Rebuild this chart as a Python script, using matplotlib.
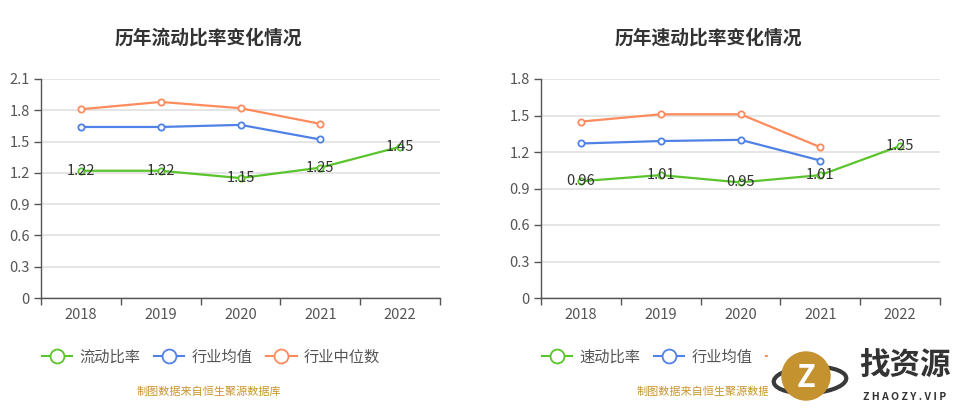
import matplotlib
matplotlib.use("Agg")
import matplotlib.pyplot as plt
from matplotlib.lines import Line2D
from matplotlib.patches import Ellipse, Rectangle

plt.rcParams["font.family"] = ["Noto Sans CJK SC", "DejaVu Sans"]

years = ["2018", "2019", "2020", "2021", "2022"]

current_ratio = [1.22, 1.22, 1.15, 1.25, 1.45]
current_ind_mean = [1.64, 1.64, 1.66, 1.52]
current_ind_median = [1.81, 1.88, 1.82, 1.67]

quick_ratio = [0.96, 1.01, 0.95, 1.01, 1.25]
quick_ind_mean = [1.27, 1.29, 1.30, 1.13]
quick_ind_median = [1.45, 1.51, 1.51, 1.24]

GREEN = "#5ac42c"
BLUE = "#5081e6"
ORANGE = "#fe8b5c"
W, H = 967, 413


def px_rect(x0, y0, x1, y1):
    return [x0 / W, 1 - y1 / H, (x1 - x0) / W, (y1 - y0) / H]


def draw_panel(fig, rect, title, title_x, main, mean, median, ymax, main_name):
    ax = fig.add_axes(rect)
    x = list(range(len(years)))
    for vals, c, z in ((median, ORANGE, 3), (mean, BLUE, 3), (main, GREEN, 4)):
        ax.plot(x[:len(vals)], vals, color=c, lw=1.6, marker="o", ms=4.5,
                mfc="white", mec=c, mew=1.3, zorder=z, clip_on=False)
    for xi, v in zip(x, main):
        ax.text(xi, v, f"{v:.2f}", ha="center", va="center", fontsize=10.5,
                color="#333333", zorder=5)
    ax.set_xlim(-0.5, len(years) - 0.5)
    ax.set_ylim(0, ymax)
    ax.set_yticks([round(i * 0.3, 1) for i in range(int(round(ymax / 0.3)) + 1)])
    ax.set_yticklabels([("0" if t == 0 else f"{t:.1f}") for t in ax.get_yticks()])
    ax.set_xticks(x)
    ax.set_xticklabels(years)
    ax.set_xticks([i - 0.5 for i in range(len(years) + 1)], minor=True)
    ax.tick_params(axis="x", which="major", length=0, pad=7, labelsize=10.5, colors="#555555")
    ax.tick_params(axis="x", which="minor", length=5, width=1, color="#555555")
    ax.tick_params(axis="y", length=5, width=1, color="#555555", labelsize=10.5,
                   labelcolor="#555555", pad=3)
    ax.grid(axis="y", color="#e0e0e0", lw=1.2)
    ax.set_axisbelow(True)
    for s in ("top", "right"):
        ax.spines[s].set_visible(False)
    for s in ("left", "bottom"):
        ax.spines[s].set_color("#555555")
        ax.spines[s].set_linewidth(1)
    fig.text(title_x / W, 1 - 38 / H, title, ha="center", va="center",
             fontsize=13.5, fontweight="bold", color="#333333")

    handles = [
        Line2D([], [], color=GREEN, lw=1.5, marker="o", ms=10, mfc="white", mew=1.3),
        Line2D([], [], color=BLUE, lw=1.5, marker="o", ms=10, mfc="white", mew=1.3),
        Line2D([], [], color=ORANGE, lw=1.5, marker="o", ms=10, mfc="white", mew=1.3),
    ]
    ax.legend(handles, [main_name, "行业均值", "行业中位数"], ncol=3, frameon=False,
              loc="center left", bbox_to_anchor=(-0.025, -0.27), fontsize=11,
              handlelength=2.0, handletextpad=0.45, columnspacing=0.9,
              labelcolor="#555555", borderpad=0.2)
    fig.text((title_x + 1) / W, 1 - 392 / H, "制图数据来自恒生聚源数据库", ha="center",
             va="center", fontsize=8, color="#c8962a")
    return ax


fig = plt.figure(figsize=(W / 100, H / 100), dpi=100)
draw_panel(fig, px_rect(41, 79, 440, 298), "历年流动比率变化情况", 208,
           current_ratio, current_ind_mean, current_ind_median, 2.1, "流动比率")
draw_panel(fig, px_rect(541, 79, 940, 298), "历年速动比率变化情况", 708,
           quick_ratio, quick_ind_mean, quick_ind_median, 1.8, "速动比率")

# watermark overlay
fig.patches.append(Rectangle((768 / W, 1 - 410 / H), 199 / W, 62 / H,
                             transform=fig.transFigure, color="white", zorder=10))
fig.patches.append(Ellipse((810 / W, 1 - 380 / H), 74 / W, 26 / H, angle=20,
                           transform=fig.transFigure, fill=False, ec="#3a3a3a",
                           lw=3, zorder=11))
fig.patches.append(Ellipse((806 / W, 1 - 376 / H), 48 / W, 48 / H,
                           transform=fig.transFigure, color="#c4922e", zorder=12))
fig.text(806 / W, 1 - 378 / H, "Z", ha="center", va="center", fontsize=22,
         fontweight="bold", color="white", zorder=13)
fig.text(905 / W, 1 - 366 / H, "找资源", ha="center", va="center", fontsize=22,
         fontweight="bold", color="#333333", zorder=13)
fig.text(905 / W, 1 - 397 / H, "Z H A O Z Y . V I P", ha="center", va="center",
         fontsize=7.5, fontweight="bold", color="#333333", zorder=13)

fig.savefig("out.png", dpi=100)
